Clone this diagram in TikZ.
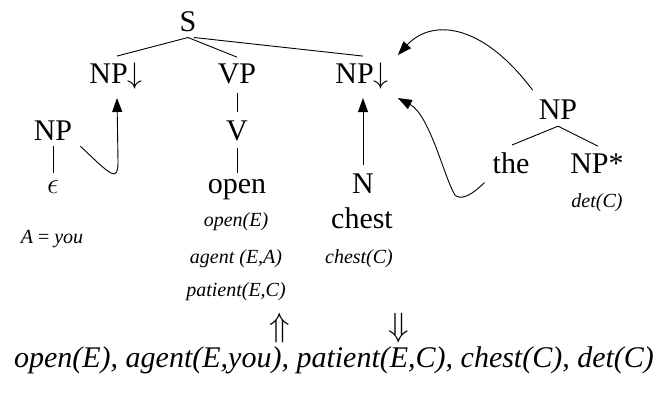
\documentclass[tikz,border=0pt]{standalone}
\usepackage{graphicx}
\usepackage{fontspec}
\setmainfont{Liberation Serif}
\usetikzlibrary{arrows.meta}
\newcommand{\darr}{\scalebox{1.2}{$\downarrow$}}
\begin{document}
\begin{tikzpicture}[x=1pt,y=-1pt,
  lab/.style={font=\fontsize{30}{32}\selectfont, inner sep=0pt, anchor=base},
  sem/.style={font=\fontsize{20}{22}\selectfont\itshape, inner sep=0pt, anchor=base},
  bot/.style={font=\fontsize{30}{32}\selectfont\itshape, inner sep=0pt, anchor=base},
  dbl/.style={font=\fontsize{24.88}{26}\selectfont, inner sep=0pt, anchor=base},
  edge/.style={line width=0.9pt},
  arr/.style={line width=0.9pt, -{Triangle[length=14pt,width=10pt]}}]
\useasboundingbox (0,0) rectangle (668,392);
% tree nodes
\node[lab] (S) at (188,31) {S};
\node[lab] (npl) at (116,83) {NP\darr};
\node[lab] (vp) at (237,83) {VP};
\node[lab] (npr) at (362,83) {NP\darr};
\node[lab] (npa) at (53,140) {NP};
\node[lab] (v) at (237,140) {V};
\node[lab] (eps) at (53,193) {\scalebox{1.2}{$\epsilon$}};
\node[lab] (open) at (237,193) {open};
\node[lab] (n) at (363,193) {N};
\node[lab] (chest) at (362,228) {chest};
\node[lab] (npb) at (558,119) {NP};
\node[lab] (the) at (511,173) {the};
\node[lab] (npst) at (597,173) {NP*};
% semantic labels
\node[sem] (ayou) at (52,243) {A \textup{=} you};
\node[sem] (openE) at (236,226) {open(E)};
\node[sem] (agent) at (236,263) {agent (E,A)};
\node[sem] (patient) at (236,296) {patient(E,C)};
\node[sem] (chestC) at (359,263) {chest(C)};
\node[sem] (detC) at (597,207) {det(C)};
% double arrows and result
\node[dbl] (up) at (280,336) {\scalebox{1.35}{$\Uparrow$}};
\node[dbl] (down) at (399,336) {\scalebox{1.35}{$\Downarrow$}};
\node[bot] (res) at (334,367) {open(E), agent(E,you), patient(E,C), chest(C), det(C)};
% tree edges
\draw[edge] ([yshift=-6pt]S.south) -- ([xshift=1pt,yshift=6pt]npl.north);
\draw[edge] ([yshift=-6pt]S.south) -- ([yshift=6pt]vp.north);
\draw[edge] ([xshift=6pt,yshift=-6pt]S.south) -- ([xshift=1pt,yshift=6pt]npr.north);
\draw[edge] ([yshift=-9pt]vp.south) -- ([yshift=8pt]v.north);
\draw[edge] ([yshift=-7pt]v.south) -- ([yshift=6pt]open.north);
\draw[edge] ([yshift=-6pt]npa.south) -- ([yshift=7pt]eps.north);
\draw[edge] ([yshift=-7pt]npb.south) -- ([xshift=1pt,yshift=7pt]the.north);
\draw[edge] ([yshift=-7pt]npb.south) -- ([xshift=1pt,yshift=7pt]npst.north);
% substitution / adjunction arrows
\draw[arr] ([xshift=8pt,yshift=-6pt]npa.south east) .. controls (95,160) and (105,170) .. (111,173)
  .. controls (116,176) and (118,172) .. (118,162) -- ([xshift=1pt,yshift=-9pt]npl.south);
\draw[arr] ([yshift=8pt]n.north) -- ([yshift=-9pt]n.north |- npr.south);
\draw[arr] ([xshift=-6pt,yshift=9pt]npb.north west) .. controls (480,20) and (430,20) .. ([xshift=9pt,yshift=7pt]npr.north east);
\draw[arr] ([xshift=-8pt,yshift=-9pt]the.south west) .. controls (470,197) and (460,200) .. (455,195)
  .. controls (445,180) and (430,115) .. ([xshift=9pt,yshift=-9pt]npr.south east);
\end{tikzpicture}
\end{document}
